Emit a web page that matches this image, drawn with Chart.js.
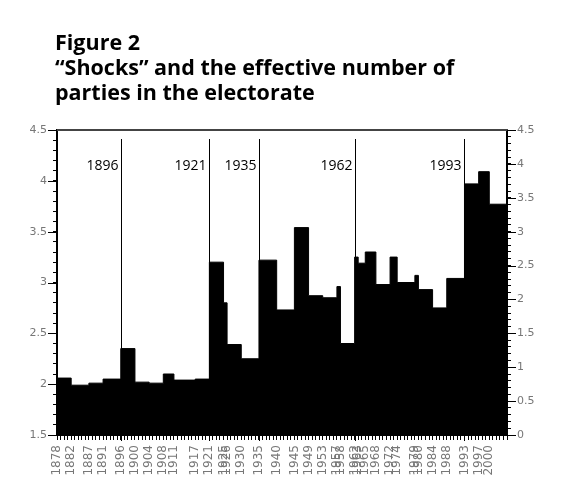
<!DOCTYPE html>
<html>
<head>
<meta charset="utf-8">
<script src="https://cdn.jsdelivr.net/npm/chart.js@4.4.1/dist/chart.umd.min.js"></script>
<style>
html, body { margin: 0; padding: 0; background: #fff; }
#wrap { position: relative; width: 582px; height: 500px; overflow: hidden; }
#c { position: absolute; left: 0; top: 0; }
#title { position: absolute; left: 55px; top: 29px; font-family: "Open Sans", sans-serif; font-weight: 700; font-size: 21.5px; line-height: 25px; color: #000; white-space: nowrap; }
</style>
</head>
<body>
<div id="wrap">
  <canvas id="c" width="582" height="500"></canvas>
  <div id="title">Figure 2<br>“Shocks” and the effective number of<br>parties in the electorate</div>
</div>
<script>
// ---- data ----
const electionYears = [1878, 1882, 1887, 1891, 1896, 1900, 1904, 1908, 1911, 1917,
  1921, 1925, 1926, 1930, 1935, 1940, 1945, 1949, 1953, 1957, 1958, 1962, 1963,
  1965, 1968, 1972, 1974, 1979, 1980, 1984, 1988, 1993, 1997, 2000];
const enpValues = [2.06, 1.99, 2.01, 2.05, 2.35, 2.02, 2.01, 2.10, 2.04, 2.05,
  3.20, 2.80, 2.39, 2.25, 3.22, 2.73, 3.54, 2.87, 2.85, 2.96, 2.40, 3.25, 3.19,
  3.30, 2.98, 3.25, 3.00, 3.07, 2.93, 2.75, 3.04, 3.97, 4.09, 3.77];
const shockYears = [1896, 1921, 1935, 1962, 1993];
const axisStartYear = 1878;
const axisEndYear = 2005;
const leftAxisRange = [1.5, 4.5];
const rightAxisRange = [0, 4.5];

// step series: each value holds until the next election; last value held to the axis end
const points = electionYears.map((yr, i) => ({ x: yr, y: enpValues[i] }));
points.push({ x: axisEndYear, y: enpValues[enpValues.length - 1] });

const isMajor = v => Math.abs(v * 2 - Math.round(v * 2)) < 1e-6;
const fmt = v => String(+v.toFixed(1));

const decor = {
  id: 'decor',
  afterDraw(chart) {
    const { ctx, chartArea: a, scales } = chart;
    const x = scales.x, y = scales.y, y2 = scales.y2;
    ctx.save();
    // top frame line
    ctx.strokeStyle = '#444';
    ctx.lineWidth = 2;
    ctx.beginPath();
    ctx.moveTo(a.left, a.top);
    ctx.lineTo(a.right + 1, a.top);
    ctx.stroke();
    // longer major ticks
    ctx.strokeStyle = '#000';
    ctx.lineWidth = 1;
    ctx.beginPath();
    y.ticks.forEach(t => {
      if (isMajor(t.value)) {
        const py = Math.round(y.getPixelForValue(t.value)) + 0.5;
        ctx.moveTo(a.left - 9, py); ctx.lineTo(a.left, py);
      }
    });
    y2.ticks.forEach(t => {
      if (isMajor(t.value)) {
        const py = Math.round(y2.getPixelForValue(t.value)) + 0.5;
        ctx.moveTo(a.right, py); ctx.lineTo(a.right + 9, py);
      }
    });
    ctx.stroke();
    // shock lines + labels
    ctx.font = '14px "Open Sans", sans-serif';
    ctx.fillStyle = '#000';
    ctx.textAlign = 'right';
    ctx.textBaseline = 'alphabetic';
    shockYears.forEach(yr => {
      const px = Math.round(x.getPixelForValue(yr)) + 0.5;
      ctx.beginPath();
      ctx.moveTo(px, a.top + 9);
      ctx.lineTo(px, a.bottom + 6);
      ctx.stroke();
      ctx.fillText(String(yr), px - 3, a.top + 40);
    });
    ctx.restore();
  }
};

new Chart(document.getElementById('c'), {
  type: 'line',
  data: {
    datasets: [{
      data: points,
      stepped: true,
      fill: 'start',
      backgroundColor: '#000',
      borderColor: '#000',
      borderWidth: 1,
      pointRadius: 0
    }]
  },
  options: {
    responsive: false,
    animation: false,
    events: [],
    layout: { padding: { top: 130, left: 0, right: 0, bottom: 0 } },
    plugins: { legend: { display: false }, tooltip: { enabled: false }, title: { display: false } },
    scales: {
      x: {
        type: 'linear',
        position: 'bottom',
        min: axisStartYear,
        max: axisEndYear,
        afterFit(s) { s.height = 65; },
        border: { display: true, color: '#000', width: 1 },
        grid: { drawOnChartArea: false, drawTicks: true, tickLength: 5, tickColor: '#000', tickWidth: 1 },
        ticks: {
          stepSize: 1,
          autoSkip: false,
          minRotation: 90,
          maxRotation: 90,
          padding: 5,
          color: '#777',
          font: { family: 'DejaVu Sans', size: 12 },
          callback: v => electionYears.includes(v) ? String(v) : ''
        }
      },
      y: {
        position: 'left',
        min: leftAxisRange[0],
        max: leftAxisRange[1],
        afterFit(s) { s.width = 57; },
        border: { display: true, color: '#000', width: 2 },
        grid: { drawOnChartArea: false, drawTicks: true, tickLength: 4, tickColor: '#000' },
        ticks: {
          stepSize: 0.1,
          autoSkip: false,
          padding: 6,
          color: '#777',
          font: { family: 'DejaVu Sans', size: 11 },
          callback: v => isMajor(v) ? fmt(v) : ''
        }
      },
      y2: {
        position: 'right',
        min: rightAxisRange[0],
        max: rightAxisRange[1],
        afterFit(s) { s.width = 75; },
        border: { display: true, color: '#000', width: 2 },
        grid: { drawOnChartArea: false, drawTicks: true, tickLength: 4, tickColor: '#000' },
        ticks: {
          stepSize: 0.1,
          autoSkip: false,
          padding: 6,
          color: '#777',
          font: { family: 'DejaVu Sans', size: 11 },
          callback: v => isMajor(v) ? fmt(v) : ''
        }
      }
    }
  },
  plugins: [decor]
});
</script>
</body>
</html>
